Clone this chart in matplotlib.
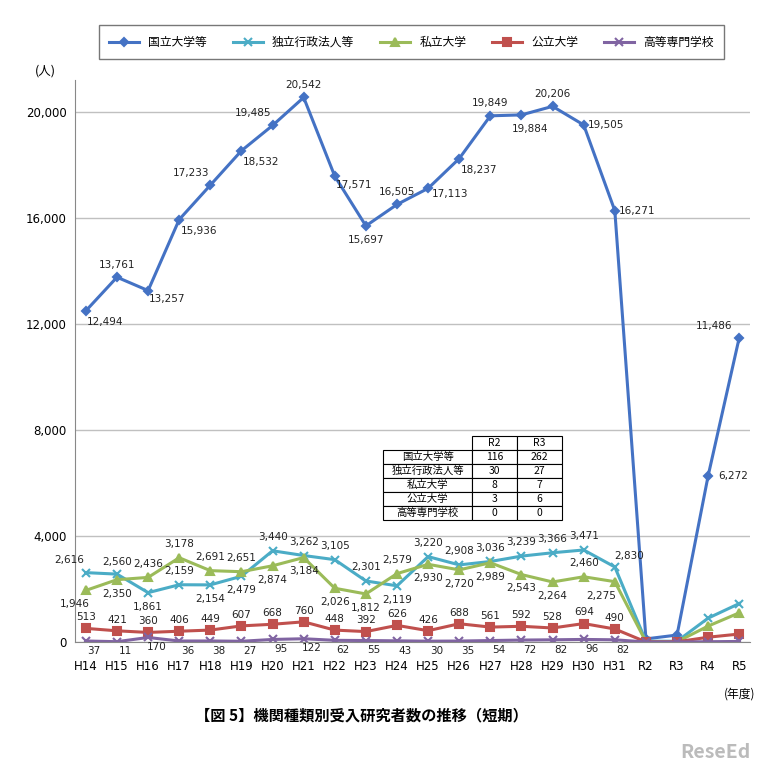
import matplotlib.pyplot as plt

plt.rcParams["font.family"] = ["Noto Sans CJK JP", "DejaVu Sans"]

years = ["H14", "H15", "H16", "H17", "H18", "H19", "H20", "H21", "H22", "H23", "H24",
         "H25", "H26", "H27", "H28", "H29", "H30", "H31", "R2", "R3", "R4", "R5"]
national = [12494, 13761, 13257, 15936, 17233, 18532, 19485, 20542, 17571, 15697, 16505,
            17113, 18237, 19849, 19884, 20206, 19505, 16271, 116, 262, 6272, 11486]
agency = [2616, 2560, 1861, 2159, 2154, 2479, 3440, 3262, 3105, 2301, 2119,
          3220, 2908, 3036, 3239, 3366, 3471, 2830, 30, 27, 900, 1450]
private = [1946, 2350, 2436, 3178, 2691, 2651, 2874, 3184, 2026, 1812, 2579,
           2930, 2720, 2989, 2543, 2264, 2460, 2275, 8, 7, 600, 1100]
public = [513, 421, 360, 406, 449, 607, 668, 760, 448, 392, 626,
          426, 688, 561, 592, 528, 694, 490, 3, 6, 180, 300]
kosen = [37, 11, 170, 36, 38, 27, 95, 122, 62, 55, 43,
         30, 35, 54, 72, 82, 96, 82, 0, 0, 10, 20]
names = ["国立大学等", "独立行政法人等", "私立大学", "公立大学", "高等専門学校"]
table_rows = [["国立大学等", "116", "262"], ["独立行政法人等", "30", "27"],
              ["私立大学", "8", "7"], ["公立大学", "3", "6"], ["高等専門学校", "0", "0"]]

# label offsets (points) for labelled points; None = no label
nat_off = [(14, -8), (0, 9), (14, -6), (14, -8), (-14, 9), (14, -8), (-14, 9), (0, 9),
           (14, -6), (0, -10), (0, 9), (16, -4), (14, -8), (0, 9), (6, -10), (0, 9),
           (16, 0), (16, 0), None, None, (18, 0), (-18, 8)]
agy_off = [(-12, 9), (0, 9), (0, -10), (0, 10), (0, -10), (0, -10), (0, 10), (0, 10),
           (0, 10), (0, 10), (0, -10), (0, 10), (0, 10), (0, 10), (0, 10), (0, 10),
           (0, 10), (10, 8), None, None, None, None]
prv_off = [(-8, -10), (0, -10), (0, 10), (0, 10), (0, 10), (0, 10), (0, -10), (0, -10),
           (0, -10), (0, -10), (0, 10), (0, -10), (0, -10), (0, -10), (0, -10), (0, -10),
           (0, 10), (-10, -10), None, None, None, None]
pub_off = [(0, 8)] * 18 + [None] * 4
kos_off = [(6, -7)] * 18 + [None] * 4

fig = plt.figure(figsize=(7.69, 7.73), dpi=100)
ax = fig.add_axes([0.0975, 0.1695, 0.878, 0.727])
x = list(range(len(years)))

series = [
    (national, "#4472c4", "D", 4, nat_off),
    (agency, "#4bacc6", "x", 6, agy_off),
    (private, "#9bbb59", "^", 6, prv_off),
    (public, "#c0504d", "s", 6, pub_off),
    (kosen, "#8064a2", "x", 6, kos_off),
]
handles = []
for (vals, col, mk, ms, offs), nm in zip(series, names):
    h, = ax.plot(x, vals, color=col, marker=mk, ms=ms, lw=2.2, mew=1.5, label=nm)
    handles.append(h)
    for xi, v, o in zip(x, vals, offs):
        if o is None:
            continue
        ax.annotate(f"{v:,}", (xi, v), xytext=o, textcoords="offset points",
                    ha="center", va="center", fontsize=7.5, color="#222222",
                    family="DejaVu Sans")

ax.set_xlim(-0.35, 21.35)
ax.set_ylim(0, 21200)
ax.set_yticks(range(0, 20001, 4000))
ax.set_yticklabels([f"{v:,}" for v in range(0, 20001, 4000)], family="DejaVu Sans", fontsize=8.5)
ax.set_xticks(x)
ax.set_xticklabels(years, family="DejaVu Sans", fontsize=8.5)
ax.tick_params(axis="x", length=0, pad=13)
ax.tick_params(axis="y", length=0, pad=6)
ax.grid(axis="y", color="#c0c0c0", lw=1)
for s in ["top", "right"]:
    ax.spines[s].set_visible(False)
ax.spines["left"].set_color("#888888")
ax.spines["bottom"].set_color("#888888")
ax.set_axisbelow(True)
ax.text(-0.06, 1.01, "(人)", transform=ax.transAxes, fontsize=9)
ax.text(21, -1700, "(年度)", ha="center", va="top", fontsize=8.5)

tbl = ax.table(cellText=table_rows, colLabels=["", "R2", "R3"], cellLoc="center",
               bbox=[0.456, 0.217, 0.265, 0.149], colWidths=[0.5, 0.25, 0.25])
tbl.auto_set_font_size(False)
tbl.set_fontsize(7.5)
for (r, c), cell in tbl.get_celld().items():
    cell.set_linewidth(0.8)
    cell.PAD = 0.02
    if r == 0 and c == 0:
        cell.set_edgecolor("white")

fig.legend(handles=handles, loc="upper center", bbox_to_anchor=(0.535, 0.975), ncol=5,
           fontsize=8.5, frameon=True, fancybox=False, edgecolor="#555555",
           borderpad=0.9, columnspacing=2.2, handlelength=2.5)
fig.text(0.47, 0.068, "【図 5】機関種類別受入研究者数の推移（短期）", ha="center",
         fontsize=11, weight="bold")
fig.text(0.93, 0.02, "ReseEd", ha="center", fontsize=14, color="#bbbbbb", weight="bold")
fig.savefig("out.png", dpi=100)
